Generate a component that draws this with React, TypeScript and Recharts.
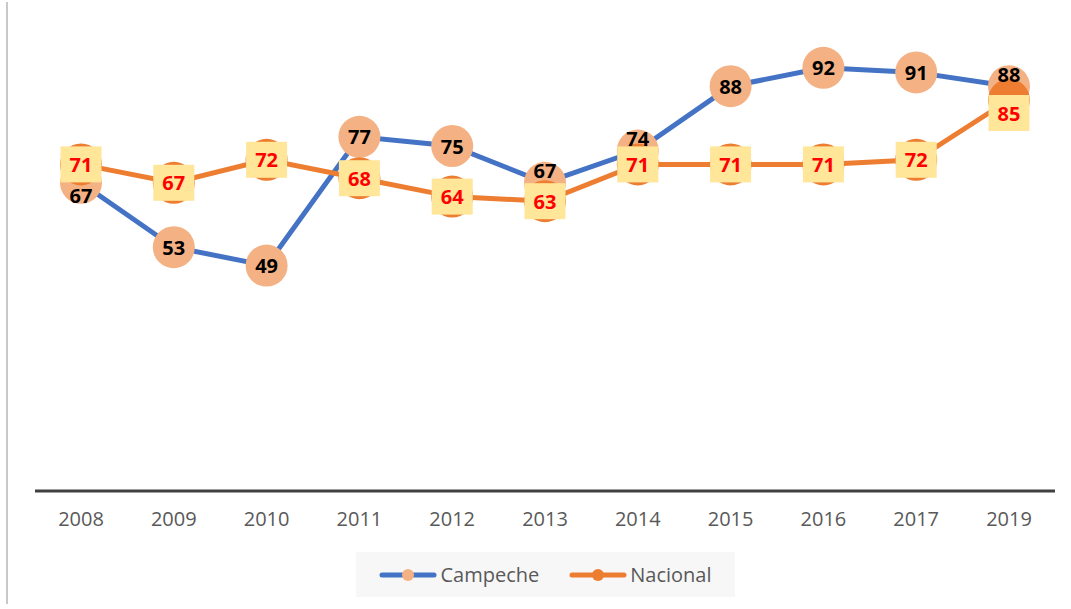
import { LineChart, Line, XAxis, YAxis, Legend, LabelList } from 'recharts';

const years = ['2008', '2009', '2010', '2011', '2012', '2013', '2014', '2015', '2016', '2017', '2019'];
const campeche = [67, 53, 49, 77, 75, 67, 74, 88, 92, 91, 88];
const nacional = [71, 67, 72, 68, 64, 63, 71, 71, 71, 72, 85];

// where the data label sits relative to its marker
const campechePlace = ['below', 'center', 'center', 'center', 'center', 'above', 'above', 'center', 'center', 'center', 'above'];
const nacionalPlace = ['center', 'center', 'center', 'center', 'center', 'center', 'center', 'center', 'center', 'center', 'below'];

const data = years.map((year, i) => ({ year, campeche: campeche[i], nacional: nacional[i] }));

const FONT = '"Open Sans", "Noto Sans", sans-serif';
const BLUE = '#4472C4';
const ORANGE = '#ED7D31';
const PEACH = '#F4B183';

const shift = (place: string) => (place === 'above' ? -12 : place === 'below' ? 13 : 0);

const CampecheLabel = (props: any) => {
  const { x, y, value, index } = props;
  const cy = y + shift(campechePlace[index]);
  return (
    <text x={x} y={cy} textAnchor="middle" dominantBaseline="central" fill="#000" fontSize={20} fontWeight={700} fontFamily={FONT}>
      {value}
    </text>
  );
};

const NacionalLabel = (props: any) => {
  const { x, y, value, index } = props;
  const cy = y + shift(nacionalPlace[index]);
  return (
    <g>
      <rect x={x - 20.5} y={cy - 18} width={41} height={36} fill="#FFE699" />
      <text x={x} y={cy} textAnchor="middle" dominantBaseline="central" fill="#FF0000" fontSize={20} fontWeight={700} fontFamily={FONT}>
        {value}
      </text>
    </g>
  );
};

const LegendBox = () => (
  <div
    style={{
      width: 379,
      height: 45,
      background: '#f7f7f7',
      display: 'flex',
      alignItems: 'center',
      justifyContent: 'center',
      fontFamily: FONT,
      fontSize: 20,
      color: '#595959',
    }}
  >
    {[
      { name: 'Campeche', stroke: BLUE, dot: PEACH },
      { name: 'Nacional', stroke: ORANGE, dot: ORANGE },
    ].map((s, i) => (
      <div key={s.name} style={{ display: 'flex', alignItems: 'center', marginLeft: i ? 30 : 0 }}>
        <svg width={58} height={16}>
          <line x1={3} y1={8} x2={55} y2={8} stroke={s.stroke} strokeWidth={5} strokeLinecap="round" />
          <circle cx={29} cy={8} r={6} fill={s.dot} />
        </svg>
        <span style={{ marginLeft: 3 }}>{s.name}</span>
      </div>
    ))}
  </div>
);

export default function App() {
  return (
    <div style={{ position: 'absolute', left: 0, top: 0, width: 1071, height: 609, background: '#fff' }}>
      <div style={{ position: 'absolute', left: 6, top: 2, width: 2, height: 602, background: '#c8c8c8' }} />
      <LineChart width={1071} height={609} data={data} margin={{ top: 31, right: 16, left: 35, bottom: 43 }}>
        <XAxis
          dataKey="year"
          padding={{ left: 46, right: 46 }}
          axisLine={{ stroke: '#404040', strokeWidth: 3 }}
          tickLine={false}
          tickSize={0}
          tickMargin={21}
          tick={{ fill: '#595959', fontSize: 20, fontFamily: FONT }}
          height={30}
          interval={0}
        />
        <YAxis hide domain={[0, 100]} />
        <Legend
          content={<LegendBox />}
          wrapperStyle={{ left: 356, top: 552, width: 379, height: 45 }}
        />
        <Line
          dataKey="campeche"
          name="Campeche"
          stroke={BLUE}
          strokeWidth={5}
          dot={{ r: 21, fill: PEACH, stroke: 'none' }}
          activeDot={false}
          isAnimationActive={false}
        />
        <Line
          dataKey="nacional"
          name="Nacional"
          stroke={ORANGE}
          strokeWidth={5}
          dot={{ r: 21, fill: ORANGE, stroke: 'none' }}
          activeDot={false}
          isAnimationActive={false}
        />
        <Line dataKey="campeche" stroke="none" dot={false} activeDot={false} legendType="none" isAnimationActive={false}>
          <LabelList dataKey="campeche" content={<CampecheLabel />} />
        </Line>
        <Line dataKey="nacional" stroke="none" dot={false} activeDot={false} legendType="none" isAnimationActive={false}>
          <LabelList dataKey="nacional" content={<NacionalLabel />} />
        </Line>
      </LineChart>
    </div>
  );
}
